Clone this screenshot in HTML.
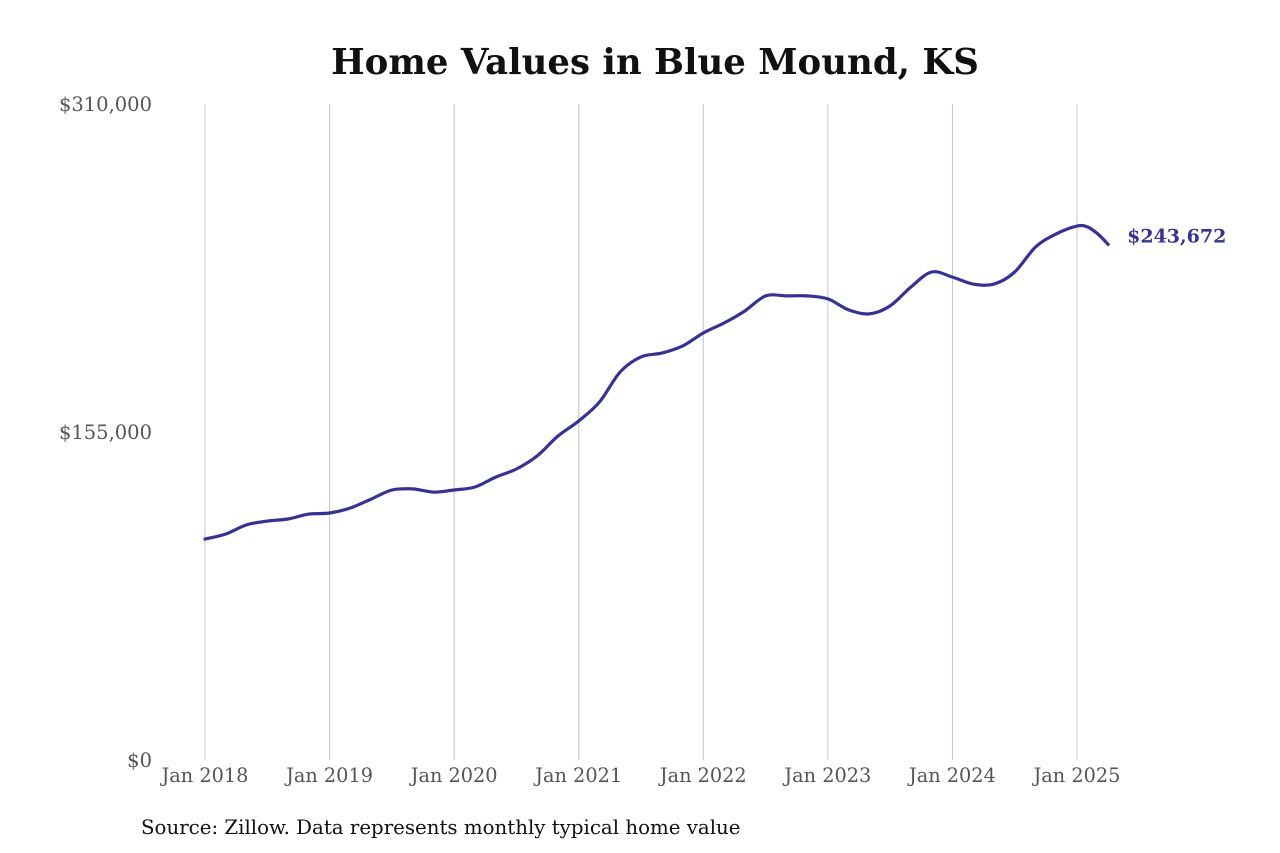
<!DOCTYPE html>
<html><head><meta charset="utf-8"><style>
html,body{margin:0;padding:0;background:#fff;}
svg{display:block;font-family:"DejaVu Serif","Liberation Serif",serif;}
</style></head><body>
<svg id="chart" width="1280" height="853" viewBox="0 0 1280 853">
<text x="655" y="74" text-anchor="middle" font-size="35.5" font-weight="bold" fill="#111">Home Values in Blue Mound, KS</text>
<g id="grid"></g><g id="yticks"></g><g id="xticks"></g>
<path id="line" fill="none" stroke="#37309a" stroke-width="3.2" stroke-linejoin="round" stroke-linecap="round"></path>
<text id="endlabel" font-size="19" font-weight="bold" fill="#37309a"></text>
<text x="141" y="834" font-size="19.8" fill="#111">Source: Zillow. Data represents monthly typical home value</text>
</svg>
<script>
const months=[0,2,4,6,8,10,12,14,16,18,20,22,24,26,28,30,32,34,36,38,40,42,44,46,48,50,52,54,56,58,60,62,64,66,68,70,72,74,76,78,80,82,84,85,86,87];
const values=[104.4,106.8,111.1,112.9,113.9,116.2,116.7,119.1,123.3,127.6,128.1,126.6,127.6,129.0,133.7,137.5,143.7,153.1,160.2,169.2,183.4,190.5,192.3,195.6,201.8,206.5,212.2,219.3,219.3,219.3,217.9,212.7,210.8,214.6,223.5,230.6,228.2,224.9,224.9,230.6,242.4,248.6,252.3,251.9,248.6,243.672];
const yTicks=[0,155000,310000];
const yTickLabels=["$0","$155,000","$310,000"];
const xTickLabels=["Jan 2018","Jan 2019","Jan 2020","Jan 2021","Jan 2022","Jan 2023","Jan 2024","Jan 2025"];
const latestLabel="$243,672";
const NS="http://www.w3.org/2000/svg";
const x=m=>205+m*(1077-205)/84;
const y=v=>760-v/310000*656;
function mk(tag,attrs,parent){const e=document.createElementNS(NS,tag);for(const k in attrs)e.setAttribute(k,attrs[k]);parent.appendChild(e);return e;}
const grid=document.getElementById('grid'),yt=document.getElementById('yticks'),xt=document.getElementById('xticks');
xTickLabels.forEach((t,i)=>{
 const gx=x(i*12);
 const l=mk('line',{x1:gx,x2:gx,y1:104,y2:760,stroke:'#c4c4c4','stroke-width':1},grid);
 
 
 const tx=mk('text',{x:gx,y:782,'text-anchor':'middle','font-size':19.3,fill:'#555'},xt);
 tx.textContent=t;
 
 
});
yTicks.forEach((v,i)=>{
 const tx=mk('text',{x:152,y:y(v)+7,'text-anchor':'end','font-size':19.5,fill:'#555'},yt);
 tx.textContent=yTickLabels[i];
 
 
});
const pts=months.map((m,i)=>[x(m),y(values[i]*1000)]);
let d='M'+pts[0][0].toFixed(1)+','+pts[0][1].toFixed(1);
for(let i=0;i<pts.length-1;i++){
 const p0=pts[Math.max(0,i-1)],p1=pts[i],p2=pts[i+1],p3=pts[Math.min(pts.length-1,i+2)];
 const c1=[p1[0]+(p2[0]-p0[0])/6,p1[1]+(p2[1]-p0[1])/6];
 const c2=[p2[0]-(p3[0]-p1[0])/6,p2[1]-(p3[1]-p1[1])/6];
 d+='C'+c1[0].toFixed(1)+','+c1[1].toFixed(1)+' '+c2[0].toFixed(1)+','+c2[1].toFixed(1)+' '+p2[0].toFixed(1)+','+p2[1].toFixed(1);
}
document.getElementById('line').setAttribute('d',d);
const el=document.getElementById('endlabel');
el.setAttribute('x',x(months[months.length-1])+19);
el.setAttribute('y',y(values[values.length-1]*1000)-2);
el.textContent=latestLabel;
</script>
</body></html>
